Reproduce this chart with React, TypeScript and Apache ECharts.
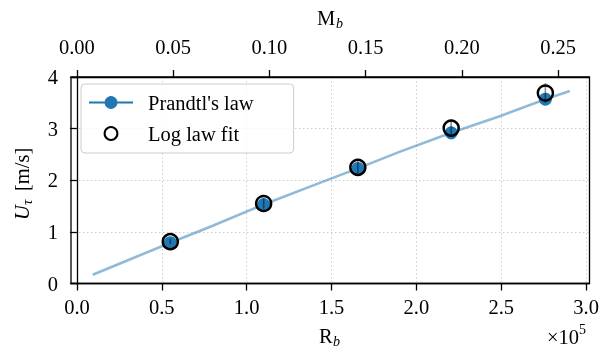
import React, { useEffect, useRef } from "react";
import * as echarts from "echarts";

// Tick values
const rbTicks = [0, 0.5, 1.0, 1.5, 2.0, 2.5, 3.0]; // R_b (x 1e5)
const mbTicks = [0, 0.05, 0.1, 0.15, 0.2, 0.25]; // M_b (top axis)
const uTicks = [0, 1, 2, 3, 4];

// Prandtl's law curve (R_b in 1e5, U_tau in m/s)
const curveRb = [0.093, 0.3, 0.55, 0.8, 1.1, 1.4, 1.655, 1.9, 2.205, 2.5, 2.76, 2.904];
const curveU = [0.17, 0.45, 0.79, 1.12, 1.53, 1.91, 2.23, 2.55, 2.92, 3.25, 3.57, 3.73];

// Discrete points
const pointRb = [0.55, 1.1, 1.655, 2.205, 2.76];
const prandtlU = [0.79, 1.53, 2.23, 2.92, 3.57];
const logFitU = [0.81, 1.55, 2.25, 3.01, 3.69];
const logFitErr = [0.05, 0.1, 0.12, 0.15, 0.19];

const FONT = "'Liberation Serif', 'DejaVu Serif', serif";
const FS = 20.5;

export default function App() {
  const ref = useRef<HTMLDivElement>(null);
  useEffect(() => {
    if (!ref.current) return;
    const chart = echarts.init(ref.current, undefined, { renderer: "svg" });
    const curveData = curveRb.map((x, i) => [x, curveU[i]]);
    const prandtlData = pointRb.map((x, i) => [x, prandtlU[i]]);
    const fitData = pointRb.map((x, i) => [x, logFitU[i]]);
    const errData = pointRb.map((x, i) => [x, logFitU[i], logFitErr[i]]);

    const axisLineStyle = { color: "#000", width: 1.3 };
    const gridLine = { show: true, lineStyle: { color: "#cfcfcf", width: 1, type: [1.5, 2.5] as any } };
    const txt = (text: string, x: number, y: number, extra: any = {}) => ({
      type: "text",
      x,
      y,
      style: {
        text,
        fontFamily: FONT,
        fontSize: FS,
        fill: "#000",
        textVerticalAlign: "middle",
        verticalAlign: "middle",
        ...extra,
      },
    });

    const option: any = {
      animation: false,
      grid: {
        left: 71,
        top: 77,
        right: 12.5,
        bottom: 69.5,
        show: true,
        borderColor: "#000",
        borderWidth: 1.3,
      },
      xAxis: [
        {
          type: "value",
          position: "bottom",
          min: -0.035,
          max: 3.02,
          axisLine: { show: true, lineStyle: axisLineStyle },
          axisTick: { show: true, length: 7, inside: false, lineStyle: axisLineStyle, customValues: rbTicks },
          axisLabel: {
            customValues: rbTicks,
            formatter: (v: number) => v.toFixed(1),
            fontFamily: FONT,
            fontSize: FS,
            color: "#000",
            margin: 13,
          },
          splitLine: gridLine,
        },
        {
          type: "value",
          position: "top",
          min: -0.00307,
          max: 0.2663,
          axisLine: { show: true, lineStyle: axisLineStyle },
          axisTick: { show: true, length: 7, inside: false, lineStyle: axisLineStyle, customValues: mbTicks },
          axisLabel: {
            customValues: mbTicks,
            formatter: (v: number) => v.toFixed(2),
            fontFamily: FONT,
            fontSize: FS,
            color: "#000",
            margin: 20,
          },
          splitLine: { show: false },
        },
      ],
      yAxis: {
        type: "value",
        min: uTicks[0],
        max: uTicks[uTicks.length - 1],
        interval: 1,
        axisLine: { show: true, lineStyle: axisLineStyle },
        axisTick: { show: true, length: 7, inside: false, lineStyle: axisLineStyle },
        axisLabel: {
          formatter: (v: number) => String(v),
          fontFamily: FONT,
          fontSize: FS,
          color: "#000",
          margin: 13,
        },
        splitLine: gridLine,
      },
      legend: {
        left: 81,
        top: 84,
        orient: "vertical",
        backgroundColor: "rgba(255,255,255,0.8)",
        borderColor: "#cccccc",
        borderWidth: 1,
        borderRadius: 4,
        padding: [8, 40, 9, 7],
        itemGap: 10,
        itemWidth: 44,
        itemHeight: 16,
        textStyle: { fontFamily: FONT, fontSize: FS, color: "#000", padding: [0, 0, 0, 10], lineHeight: 20 },
        data: [
          { name: "Prandtl's law", lineStyle: { width: 2, opacity: 1, color: "#1f77b4" } },
          { name: "Log law fit", lineStyle: { width: 0, opacity: 0 } },
        ],
      },
      series: [
        {
          type: "line",
          name: "curve",
          data: curveData,
          showSymbol: false,
          symbol: "none",
          lineStyle: { color: "rgba(31,119,180,0.5)", width: 2.6 },
          z: 2,
          silent: true,
        },
        {
          type: "line",
          name: "Prandtl's law",
          data: prandtlData,
          symbol: "circle",
          symbolSize: 13,
          showSymbol: true,
          lineStyle: { width: 0, opacity: 0, color: "#1f77b4" },
          itemStyle: { color: "#1f77b4" },
          z: 3,
        },
        {
          type: "custom",
          name: "err",
          data: errData,
          z: 4,
          renderItem: (params: any, api: any) => {
            const x = api.value(0);
            const y = api.value(1);
            const e = api.value(2);
            const p1 = api.coord([x, y + e]);
            const p2 = api.coord([x, y - e]);
            return {
              type: "line",
              shape: { x1: p1[0], y1: p1[1], x2: p2[0], y2: p2[1] },
              style: { stroke: "rgba(0,0,0,0.45)", lineWidth: 1.6 },
            };
          },
        },
        {
          type: "line",
          name: "Log law fit",
          data: fitData,
          symbol: "circle",
          symbolSize: 15,
          showSymbol: true,
          lineStyle: { width: 0, opacity: 0, color: "#000" },
          itemStyle: { color: "rgba(0,0,0,0)", borderColor: "#000", borderWidth: 2.5 },
          z: 5,
        },
      ],
      graphic: [
        // top axis name M_b
        txt("M", 317, 18),
        txt("b", 336, 23, { fontSize: 14, fontStyle: "italic" }),
        // bottom axis name R_b
        txt("R", 319, 336),
        txt("b", 333, 341, { fontSize: 14, fontStyle: "italic" }),
        // multiplier x10^5
        txt("\u00d710", 547, 337),
        txt("5", 579, 329, { fontSize: 14 }),
        // y axis name
        {
          type: "group",
          x: 22,
          y: 180,
          rotation: Math.PI / 2,
          children: [
            txt("U", -40, 0, { fontStyle: "italic" }),
            txt("\u03c4", -25, 5, { fontSize: 15, fontStyle: "italic" }),
            txt("[m/s]", -11, 0),
          ],
        },
      ],
    };
    chart.setOption(option);
    return () => chart.dispose();
  }, []);
  return <div ref={ref} style={{ position: "fixed", left: 0, top: 0, width: 602, height: 353 }} />;
}
